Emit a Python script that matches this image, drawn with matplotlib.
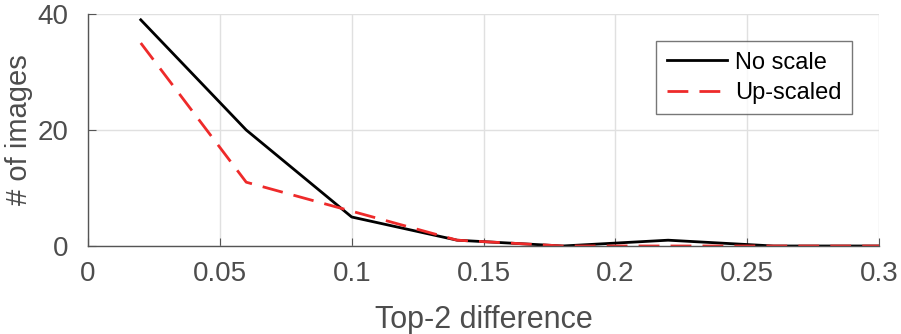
import matplotlib
matplotlib.use('Agg')
import matplotlib.pyplot as plt

plt.rcParams['font.family'] = ['Liberation Sans', 'DejaVu Sans']

# Histogram of top-2 score differences
diff_bins = [0.02, 0.06, 0.10, 0.14, 0.18, 0.22, 0.26, 0.30]
no_scale = [39, 20, 5, 1, 0, 1, 0, 0]
up_scaled = [35, 11, 6, 1, 0, 0, 0, 0]
x_ticks = [0, 0.05, 0.1, 0.15, 0.2, 0.25, 0.3]
x_tick_labels = ['0', '0.05', '0.1', '0.15', '0.2', '0.25', '0.3']
y_ticks = [0, 20, 40]

fig = plt.figure(figsize=(9.01, 3.34), dpi=100)
ax = fig.add_axes([0.0977, 0.2635, 0.8779, 0.6945])

ax.plot(diff_bins, no_scale, color='black', linewidth=2, label='No scale')
ax.plot(diff_bins, up_scaled, color='#ee2a2a', linewidth=2, linestyle=(0, (7.5, 4)),
        label='Up-scaled')

ax.set_xlim(0, 0.3)
ax.set_ylim(0, 40)
ax.set_xticks(x_ticks)
ax.set_xticklabels(x_tick_labels)
ax.set_yticks(y_ticks)
ax.grid(True, color='#e0e0e0', linewidth=1)
ax.set_axisbelow(True)

for side in ['top', 'right']:
    ax.spines[side].set_visible(False)
for side in ['left', 'bottom']:
    ax.spines[side].set_color('#555555')
    ax.spines[side].set_linewidth(1)
ax.tick_params(direction='in', length=6, color='#555555', labelcolor='#4d4d4d',
               labelsize=20)
ax.tick_params(axis='x', pad=11)
ax.tick_params(axis='y', pad=14)

ax.set_xlabel('Top-2 difference', fontsize=22, color='#4d4d4d', labelpad=13)
ax.set_ylabel('# of images', fontsize=21, color='#4d4d4d')
ax.yaxis.set_label_coords(-0.069, 0.5)

leg = ax.legend(loc='upper right', bbox_to_anchor=(0.966, 0.884), borderaxespad=0,
                fontsize=17, frameon=True, fancybox=False, handlelength=2.55,
                handletextpad=0.35, borderpad=0.45, labelspacing=0.35)
leg.get_frame().set_edgecolor('#555555')
leg.get_frame().set_linewidth(1)

fig.savefig('out.png', dpi=100)
